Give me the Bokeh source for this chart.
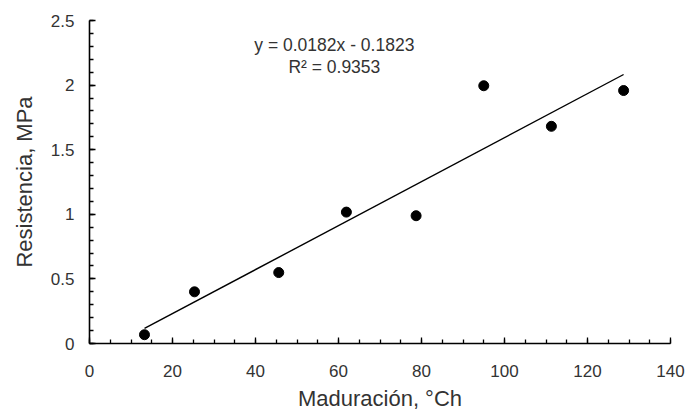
import numpy as np
from bokeh.plotting import figure
from bokeh.models import Range1d, SingleIntervalTicker, CustomJSTickFormatter, Label
from bokeh.embed import file_html
from bokeh.resources import INLINE

# Data
maduracion = [13.25, 25.3, 45.6, 61.9, 78.7, 95.0, 111.3, 128.7]
resistencia = [0.068, 0.40, 0.549, 1.017, 0.989, 1.995, 1.681, 1.958]
equation_text = "y = 0.0182x - 0.1823"
r2_text = "R\u00b2 = 0.9353"
x_title = "Maduración, °Ch"
y_title = "Resistencia, MPa"

FONT = "Liberation Sans"
TXT = "#333333"

p = figure(width=685, height=413, output_backend="svg", toolbar_location=None,
           x_range=Range1d(0, 140), y_range=Range1d(0, 2.5),
           min_border_left=89, min_border_right=15, min_border_top=20, min_border_bottom=69)
p.outline_line_color = None
p.grid.visible = False
p.background_fill_color = "white"
p.border_fill_color = "white"

# trendline (least squares through the points)
xs = np.array(maduracion)
ys = np.array(resistencia)
m, b = np.polyfit(xs, ys, 1)
xl = np.array([xs.min(), xs.max()])
p.line(xl, m * xl + b, line_color="black", line_width=1.4)

p.scatter(maduracion, resistencia, size=10, color="black")

p.xaxis.ticker = SingleIntervalTicker(interval=20, num_minor_ticks=4)
p.yaxis.ticker = SingleIntervalTicker(interval=0.5, num_minor_ticks=5)
p.yaxis.formatter = CustomJSTickFormatter(code="return String(Math.round(tick*10)/10);")
p.xaxis.formatter = CustomJSTickFormatter(code="return String(Math.round(tick));")

for ax in (p.xaxis, p.yaxis):
    ax.axis_line_color = "black"
    ax.axis_line_width = 1.6
    ax.major_tick_in = 6
    ax.major_tick_out = 0
    ax.minor_tick_in = 4
    ax.minor_tick_out = 0
    ax.major_tick_line_color = "black"
    ax.minor_tick_line_color = "black"
    ax.major_tick_line_width = 1.3
    ax.minor_tick_line_width = 1.3
    ax.major_label_text_font = FONT
    ax.major_label_text_font_size = "17px"
    ax.major_label_text_color = TXT
    ax.axis_label_text_font = FONT
    ax.axis_label_text_font_size = "22px"
    ax.axis_label_text_font_style = "normal"
    ax.axis_label_text_color = TXT

p.xaxis.major_label_standoff = 21
p.yaxis.major_label_standoff = 15
p.xaxis.axis_label = x_title
p.xaxis.axis_label_standoff = 6
p.yaxis.axis_label = y_title
p.yaxis.axis_label_standoff = 11

p.add_layout(Label(x=59.0, y=2.31, text=equation_text, text_align="center",
                   text_baseline="middle", text_font=FONT, text_font_size="17.5px",
                   text_color=TXT))
p.add_layout(Label(x=59.0, y=2.137, text=r2_text, text_align="center",
                   text_baseline="middle", text_font=FONT, text_font_size="17.5px",
                   text_color=TXT))

open("out.html", "w").write(file_html(p, INLINE))
